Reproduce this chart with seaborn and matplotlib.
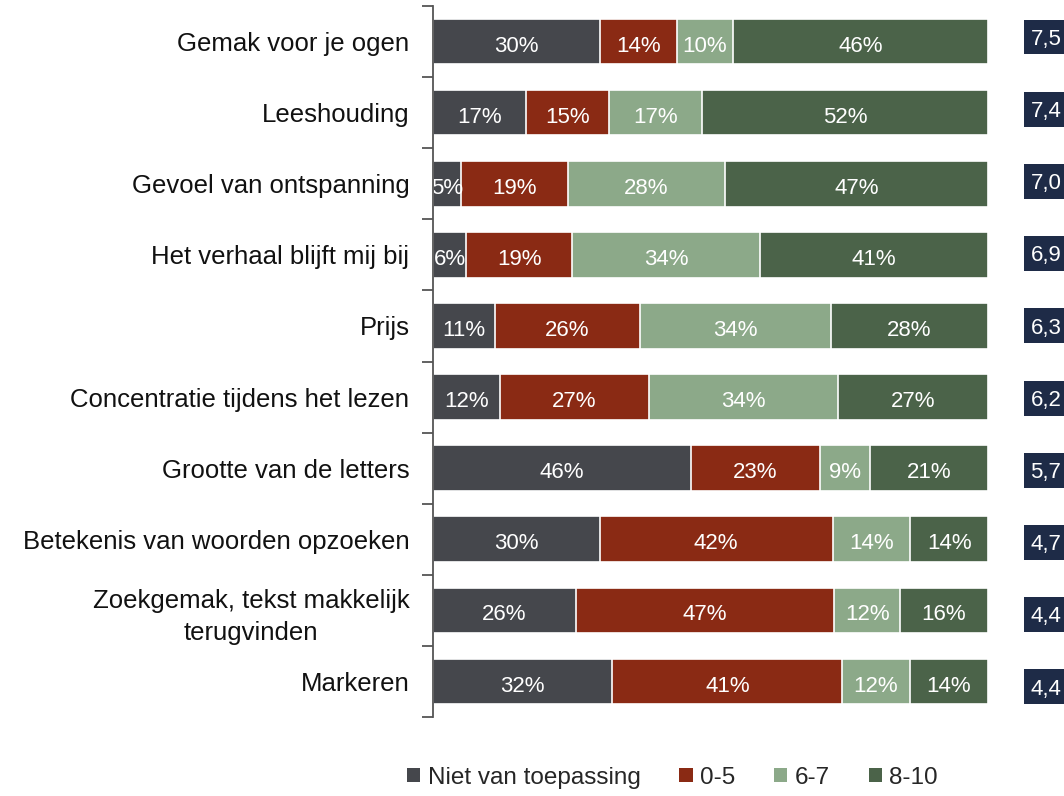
import numpy as np
import pandas as pd
import matplotlib
matplotlib.use("Agg")
import matplotlib.pyplot as plt
from matplotlib.patches import Patch, Rectangle
import matplotlib.transforms as mtransforms
import seaborn as sns

categories = [
    "Gemak voor je ogen",
    "Leeshouding",
    "Gevoel van ontspanning",
    "Het verhaal blijft mij bij",
    "Prijs",
    "Concentratie tijdens het lezen",
    "Grootte van de letters",
    "Betekenis van woorden opzoeken",
    "Zoekgemak, tekst makkelijk\nterugvinden",
    "Markeren",
]
series_names = ["Niet van toepassing", "0-5", "6-7", "8-10"]
niet_van_toepassing = [30, 17, 5, 6, 11, 12, 46, 30, 26, 32]
score_0_5 = [14, 15, 19, 19, 26, 27, 23, 42, 47, 41]
score_6_7 = [10, 17, 28, 34, 34, 34, 9, 14, 12, 12]
score_8_10 = [46, 52, 47, 41, 28, 27, 21, 14, 16, 14]
average_scores = ["7,5", "7,4", "7,0", "6,9", "6,3", "6,2", "5,7", "4,7", "4,4", "4,4"]

colors = ["#45474C", "#8A2A14", "#8CA989", "#4B6349"]
box_color = "#1E2B47"

sns.set_theme(style="white")
plt.rcParams["font.family"] = ["Liberation Sans", "DejaVu Sans"]

vals = np.array([niet_van_toepassing, score_0_5, score_6_7, score_8_10], dtype=float).T
norm = vals / vals.sum(axis=1, keepdims=True) * 100
cum = np.cumsum(norm, axis=1)

fig = plt.figure(figsize=(10.64, 7.96), dpi=100)
ax = fig.add_axes([433 / 1064, 1 - 717 / 796, (988 - 433) / 1064, (717 - 6) / 796])

n = len(categories)
for j in range(3, -1, -1):
    df = pd.DataFrame({"cat": categories, "val": cum[:, j]})
    sns.barplot(data=df, x="val", y="cat", orient="h", color=colors[j],
                saturation=1, width=0.64, edgecolor="white", linewidth=1.2,
                ax=ax, order=categories, zorder=2)

# percentage labels
for i in range(n):
    for j in range(4):
        start = cum[i, j] - norm[i, j]
        ax.text(start + norm[i, j] / 2, i + 0.065, f"{int(vals[i, j])}%", ha="center",
                va="center", color="white", fontsize=16, zorder=5)

# score boxes
trans = mtransforms.blended_transform_factory(ax.transAxes, ax.transData)
box_h = 0.49
for i in range(n):
    yc = -0.063 + 1.0155 * i
    ax.add_patch(Rectangle((1.065, yc - box_h / 2), 0.0757, box_h, transform=trans,
                           facecolor=box_color, edgecolor="none", clip_on=False,
                           zorder=4))
    ax.text(1.1045, yc + 0.03, average_scores[i], transform=trans,
            ha="center", va="center", color="white", fontsize=16,
            clip_on=False, zorder=5)

ax.set_xlim(0, 100)
ax.set_ylim(n - 0.5, -0.5)
ax.set_xlabel("")
ax.set_ylabel("")
ax.set_xticks([])
ax.set_yticks(range(n))
ax.set_yticklabels(categories, fontsize=18.5, color="#111111")
for lbl in ax.get_yticklabels():
    lbl.set_multialignment("center")
    lbl.set_linespacing(1.45)
ax.set_yticks(np.arange(-0.5, n, 1), minor=True)
ax.tick_params(axis="y", which="major", length=0, pad=17)
ax.tick_params(axis="y", which="minor", length=8, width=1.3, color="#555555",
               direction="out", left=True)
for s in ["top", "right", "bottom"]:
    ax.spines[s].set_visible(False)
ax.spines["left"].set_color("#555555")
ax.spines["left"].set_linewidth(1.3)
ax.spines["left"].set_zorder(6)

handles = [Patch(facecolor=c, edgecolor="none") for c in colors]
fig.legend(handles, series_names, loc="center", bbox_to_anchor=(0.632, 0.023),
           ncol=4, frameon=False, fontsize=17.5, handlelength=0.55, handleheight=0.55,
           handletextpad=0.3, columnspacing=1.6)

fig.savefig("out.png", dpi=100)
